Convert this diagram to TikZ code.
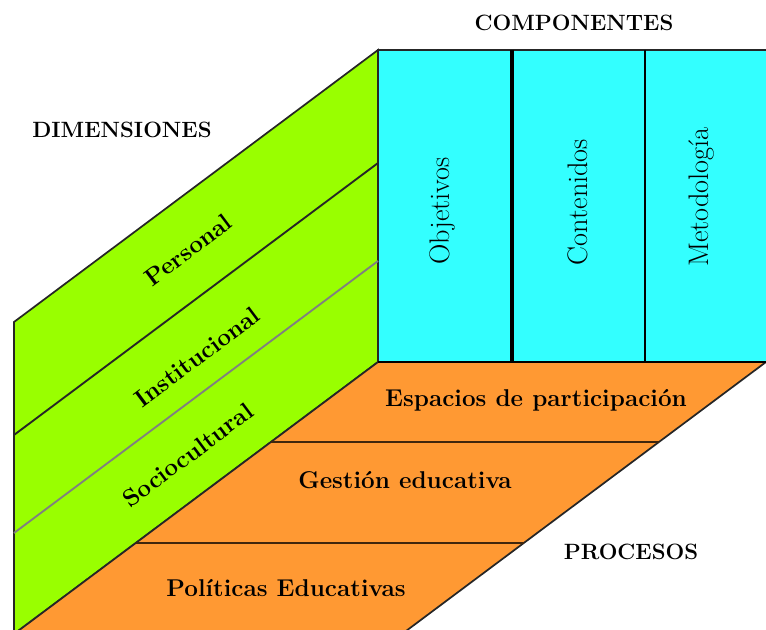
\documentclass[tikz,border=0pt]{standalone}
\usepackage{fontspec}
\definecolor{dimgreen}{HTML}{99FF00}
\definecolor{compcyan}{HTML}{33FFFF}
\definecolor{procorange}{HTML}{FF9933}
\tikzset{
  title/.style={font=\bfseries\fontsize{16.6}{20}\selectfont},
  band/.style={font=\bfseries\fontsize{18.2}{21}\selectfont},
  column/.style={font=\fontsize{21.2}{24}\selectfont, rotate=90},
  face/.style={draw=black!85, line width=1.3pt},
}
\begin{document}
\begin{tikzpicture}[x=0.75pt,y=-0.75pt]
  \useasboundingbox (0,0) rectangle (766,630);
  \clip (0,0) rectangle (766,630);
  \filldraw[face, fill=dimgreen] (14,322) -- (378,50) -- (378,362) -- (14,634) -- cycle;
  \filldraw[face, fill=compcyan] (378,50) rectangle (772,362);
  \filldraw[face, fill=procorange] (378,362) -- (766,362) -- (402,634) -- (14,634) -- cycle;
  \begin{scope}[line width=1.4pt]
    \draw[black!85] (14,435) -- (378,163);
    \draw[gray] (14,533) -- (378,261);
    \draw[line width=2.4pt] (512,50) -- (512,362);
    \draw (645,50) -- (645,362);
    \draw[line width=2.2pt] (378,362) -- (766,362);
    \draw[line width=2.2pt, black!75!procorange] (271,442) -- (659,442);
    \draw[line width=2.2pt, black!75!procorange] (136,543) -- (524,543);
  \end{scope}
  \draw
    (574,23) node[title] (componentes){COMPONENTES}
    (122,130) node[title] (dimensiones){DIMENSIONES}
    (631,552) node[title] (procesos){PROCESOS};
  \draw
    (188,250) node[band, rotate=36.8] (personal){Personal}
    (197,357) node[band, rotate=36.8] (institucional){Institucional}
    (188,455) node[band, rotate=36.8] (sociocultural){Sociocultural};
  \draw
    (442,211) node[column] (objetivos){Objetivos}
    (578,202) node[column] (contenidos){Contenidos}
    (702,197) node[column] (metodologia){Metodología};
  \draw
    (536,400) node[band] (espacios){Espacios de participación}
    (405,480) node[band] (gestion){Gestión educativa}
    (286,588) node[band] (politicas){Políticas Educativas};
\end{tikzpicture}
\end{document}
